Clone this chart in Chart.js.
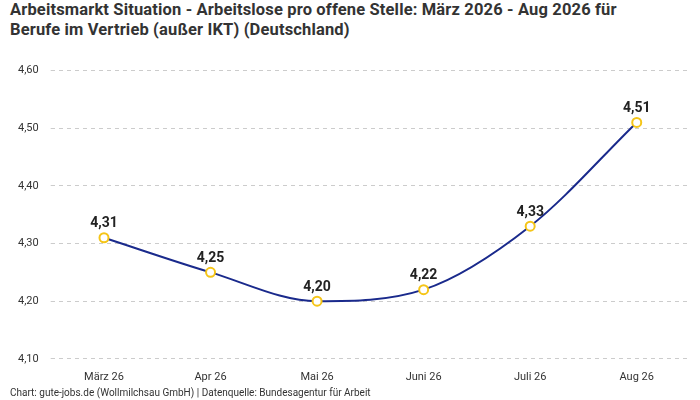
<!DOCTYPE html>
<html><head><meta charset="utf-8">
<script src="https://cdn.jsdelivr.net/npm/chart.js@4"></script>
<style>body{margin:0;background:#fff;font-family:Roboto,sans-serif}
#t{position:absolute;left:10px;top:0px;font-size:16.5px;font-weight:bold;color:#333;line-height:20px;letter-spacing:0.15px}
#f{position:absolute;left:10px;top:387px;font-size:10px;color:#333}
#w{position:absolute;left:0;top:52px;width:700px;height:336px}</style></head>
<body><div id="t">Arbeitsmarkt Situation - Arbeitslose pro offene Stelle: März 2026 - Aug 2026 für<br>Berufe im Vertrieb (außer IKT) (Deutschland)</div>
<div id="w"><canvas id="c"></canvas></div>
<div id="f">Chart: gute-jobs.de (Wollmilchsau GmbH) | Datenquelle: Bundesagentur für Arbeit</div>
<script>
const categories=["März 26","Apr 26","Mai 26","Juni 26","Juli 26","Aug 26"];
const values=[4.31,4.25,4.20,4.22,4.33,4.51];
const fmt=v=>v.toFixed(2).replace('.',',');
const labelsPlugin={id:'lbl',afterDatasetsDraw(ch){const ctx=ch.ctx;const m=ch.getDatasetMeta(0);ctx.save();ctx.font='bold 14px Roboto';ctx.fillStyle='#222';ctx.textAlign='center';ctx.textBaseline='bottom';m.data.forEach((p,i)=>ctx.fillText(fmt(values[i]),p.x,p.y-7));ctx.restore();}};
new Chart(document.getElementById('c'),{type:'line',data:{labels:categories,datasets:[{data:values,borderColor:'#1a2a8c',borderWidth:2,cubicInterpolationMode:'monotone',pointRadius:4.5,pointBorderWidth:2,pointBackgroundColor:'#fff',pointBorderColor:'#f5c518'}]},
options:{responsive:true,maintainAspectRatio:false,animation:false,layout:{padding:{left:6,right:10,top:8}},plugins:{legend:{display:false},tooltip:{enabled:false}},
scales:{x:{offset:true,grid:{display:false},border:{display:false},ticks:{color:'#333',font:{size:11,family:'Roboto'},padding:4}},
y:{min:4.1,max:4.6,grid:{color:'#ccc',tickLength:0},border:{display:false,dash:[4,4]},ticks:{stepSize:0.1,color:'#333',font:{size:11,family:'Roboto'},padding:12,callback:v=>fmt(v)}}}},plugins:[labelsPlugin]});
</script></body></html>
